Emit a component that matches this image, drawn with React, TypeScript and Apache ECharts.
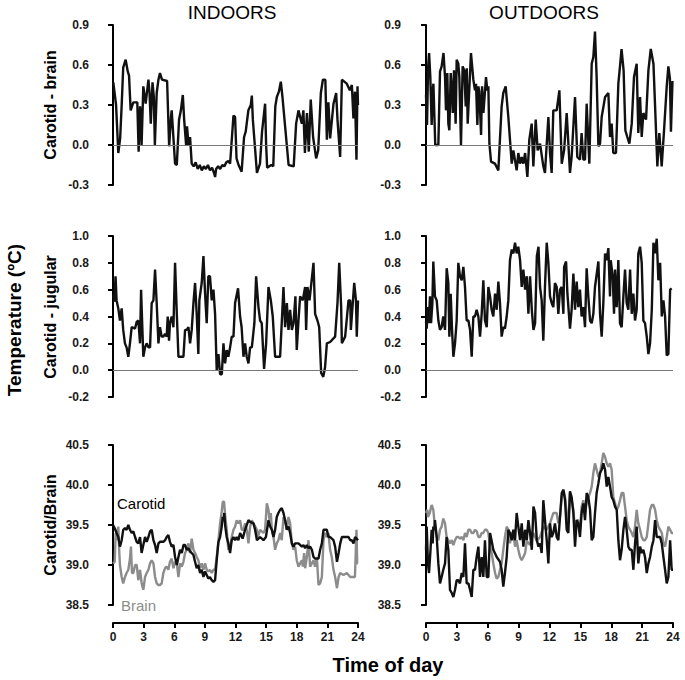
import React, { useEffect, useRef } from "react";
import * as echarts from "echarts";

// ---------- data (time of day in h, value) ----------
const indoorCarotidBrain: [number, number][] = [
  [0.03,0.47],[0.3,0.3],[0.52,-0.06],[0.7,0.05],[0.85,0.3],[1.0,0.58],[1.24,0.64],[1.45,0.55],[1.57,0.52],[1.73,0.26],
  [1.99,0.32],[2.38,0.32],[2.51,-0.05],[2.65,0.29],[2.72,0.21],[2.8,0.0],[2.97,0.44],[3.2,0.31],[3.47,0.49],[3.58,0.39],
  [3.7,0.16],[3.87,0.47],[4.0,0.36],[4.1,0.0],[4.28,0.39],[4.45,0.49],[4.6,0.54],[4.8,0.49],[5.3,0.48],[5.5,-0.01],
  [5.68,0.21],[5.75,0.26],[6.08,-0.14],[6.25,-0.15],[6.47,0.19],[6.65,0.26],[6.84,0.375],[6.97,0.19],[7.16,0.0],[7.25,0.14],
  [7.4,0.0],[7.55,0.06],[7.71,-0.14],[7.9,-0.16],[8.1,-0.13],[8.3,-0.18],[8.5,-0.15],[8.7,-0.19],[8.9,-0.16],[9.1,-0.18],
  [9.3,-0.15],[9.5,-0.19],[9.7,-0.17],[9.9,-0.21],[10.0,-0.24],[10.1,-0.18],[10.3,-0.16],[10.5,-0.18],[10.7,-0.15],[10.9,-0.16],
  [11.1,-0.13],[11.3,-0.12],[11.47,-0.14],[11.6,0.0],[11.8,0.22],[11.96,0.21],[12.1,-0.1],[12.3,-0.15],[12.6,-0.2],[12.84,0.06],
  [13.0,0.1],[13.26,0.26],[13.5,0.3],[13.6,0.37],[13.7,0.19],[14.1,-0.21],[14.4,-0.14],[14.6,0.1],[14.9,0.31],[15.0,0.0],
  [15.1,-0.17],[15.5,-0.15],[15.7,-0.16],[15.9,0.29],[16.05,0.36],[16.25,0.4],[16.44,0.475],[16.6,0.36],[16.86,0.14],[17.2,-0.15],
  [17.7,-0.16],[17.94,0.16],[18.17,0.26],[18.5,0.16],[18.65,0.26],[18.8,-0.06],[19.0,0.24],[19.18,-0.05],[19.37,0.34],[19.6,0.06],
  [19.9,-0.1],[20.1,-0.04],[20.36,0.39],[20.56,0.49],[20.8,0.49],[20.95,0.04],[21.1,0.32],[21.27,0.05],[21.6,0.31],[21.86,0.39],
  [21.99,0.19],[22.25,-0.09],[22.42,0.49],[22.9,0.46],[23.2,0.41],[23.4,0.45],[23.55,0.2],[23.7,0.4],[23.85,-0.11],[23.95,0.44],[24.0,0.3]
];

const outdoorCarotidBrain: [number, number][] = [
  [0,0.375],[0.1,0.15],[0.2,0.575],[0.3,0.69],[0.42,0.51],[0.55,0.15],[0.65,0.41],[0.72,0.46],[0.9,0.0],[1.2,0.0],
  [1.36,0.55],[1.52,0.59],[1.7,0.69],[1.85,0.51],[1.94,0.26],[2.07,0.54],[2.17,0.16],[2.27,0.11],[2.4,0.54],[2.53,0.39],
  [2.6,0.24],[2.72,0.56],[2.88,0.16],[2.98,0.64],[3.14,0.61],[3.24,0.51],[3.4,0.0],[3.56,0.59],[3.72,0.56],[3.86,0.29],
  [3.96,0.575],[4.05,0.16],[4.37,0.69],[4.6,0.49],[4.76,0.41],[4.86,0.46],[4.99,0.15],[5.09,0.44],[5.18,0.4],[5.35,0.075],
  [5.45,0.44],[5.58,0.24],[5.83,0.51],[5.96,0.41],[6.06,0.44],[6.16,0.01],[6.32,-0.125],[6.7,-0.14],[7.03,-0.19],[7.35,0.29],
  [7.51,0.39],[7.74,0.44],[8.0,0.21],[8.33,-0.14],[8.49,-0.04],[8.81,-0.19],[8.97,-0.06],[9.14,-0.14],[9.3,-0.09],[9.46,-0.14],
  [9.63,-0.06],[9.85,-0.24],[10.04,0.04],[10.27,0.16],[10.43,-0.16],[10.66,0.19],[10.85,-0.04],[11.08,0.01],[11.4,-0.16],[11.56,-0.21],
  [11.89,0.21],[12.05,-0.06],[12.21,-0.21],[12.37,0.26],[12.7,0.26],[12.96,0.41],[13.19,-0.14],[13.42,-0.04],[13.67,0.24],[13.99,-0.21],
  [14.15,-0.09],[14.48,0.36],[14.7,-0.09],[14.96,-0.11],[15.12,0.09],[15.29,-0.11],[15.45,-0.11],[15.61,0.31],[15.87,-0.14],[16.1,0.61],
  [16.26,0.66],[16.42,0.85],[16.58,0.51],[16.75,-0.01],[16.91,0.01],[17.07,0.21],[17.4,0.36],[17.72,0.39],[17.88,0.06],[18.04,0.16],
  [18.2,-0.06],[18.46,-0.06],[18.69,0.46],[18.85,0.59],[19.0,0.72],[19.2,0.56],[19.37,0.11],[19.56,0.06],[19.76,0.01],[19.99,0.16],
  [20.21,0.51],[20.47,0.61],[20.63,0.09],[20.8,0.36],[20.96,0.06],[21.12,0.24],[21.38,0.19],[21.61,0.56],[21.84,0.72],[22.1,0.61],
  [22.26,0.29],[22.48,-0.16],[22.67,0.09],[22.9,-0.16],[23.13,0.11],[23.39,0.44],[23.55,0.59],[23.7,0.5],[23.8,0.1],[23.95,0.48]
];

const indoorCarotidJugular: [number, number][] = [
  [0.03,0.56],[0.13,0.51],[0.25,0.7],[0.35,0.52],[0.52,0.46],[0.68,0.37],[0.85,0.46],[1.0,0.3],[1.17,0.2],[1.33,0.17],
  [1.5,0.1],[1.66,0.2],[1.83,0.32],[2.16,0.31],[2.32,0.36],[2.48,0.37],[2.65,0.2],[2.75,0.6],[2.85,0.37],[2.97,0.1],
  [3.14,0.17],[3.3,0.2],[3.47,0.17],[3.63,0.17],[3.79,0.5],[3.96,0.52],[4.12,0.75],[4.28,0.5],[4.45,0.2],[4.6,0.32],
  [4.77,0.25],[4.93,0.25],[5.1,0.27],[5.26,0.25],[5.36,0.4],[5.49,0.22],[5.58,0.35],[5.75,0.4],[5.92,0.32],[6.08,0.8],
  [6.25,0.42],[6.41,0.1],[6.9,0.1],[7.06,0.3],[7.22,0.3],[7.39,0.32],[7.55,0.2],[7.71,0.3],[7.88,0.5],[8.04,0.65],
  [8.2,0.42],[8.36,0.12],[8.46,0.52],[8.69,0.65],[8.86,0.85],[9.02,0.57],[9.18,0.35],[9.34,0.7],[9.5,0.7],[9.67,0.52],
  [9.84,0.6],[10.0,0.42],[10.16,0.0],[10.33,0.12],[10.49,-0.03],[10.66,-0.03],[10.82,0.2],[10.98,0.05],[11.14,0.15],[11.3,0.1],
  [11.47,0.17],[11.63,0.25],[11.8,0.25],[11.96,0.5],[12.25,0.61],[12.45,0.4],[12.6,0.32],[12.78,0.1],[12.94,0.2],[13.1,0.1],
  [13.27,0.05],[13.43,0.17],[13.6,0.17],[13.85,0.35],[14.02,0.7],[14.25,0.47],[14.41,0.37],[14.57,0.35],[14.8,0.01],[15.0,0.2],
  [15.23,0.62],[15.46,0.52],[15.65,0.4],[15.88,0.1],[16.37,0.1],[16.7,0.62],[16.86,0.32],[17.03,0.5],[17.19,0.3],[17.35,0.45],
  [17.52,0.3],[17.68,0.35],[17.87,0.55],[18.0,0.15],[18.17,0.37],[18.33,0.55],[18.59,0.52],[18.82,0.62],[18.92,0.3],[19.05,0.62],
  [19.25,0.52],[19.64,0.8],[19.8,0.42],[20.03,0.37],[20.2,0.32],[20.39,-0.02],[20.6,-0.05],[20.77,0.02],[20.95,0.2],[21.27,0.21],
  [21.76,0.25],[21.99,0.5],[22.16,0.8],[22.35,0.47],[22.42,0.2],[22.74,0.25],[23.07,0.52],[23.24,0.52],[23.3,0.3],[23.63,0.65],
  [23.8,0.52],[23.88,0.25],[24.0,0.52]
];

const outdoorCarotidJugular: [number, number][] = [
  [0,0.36],[0.07,0.31],[0.17,0.47],[0.26,0.35],[0.39,0.55],[0.49,0.35],[0.62,0.5],[0.71,0.81],[0.87,0.55],[1.04,0.52],
  [1.2,0.37],[1.36,0.3],[1.52,0.32],[1.68,0.4],[1.85,0.3],[2.01,0.76],[2.17,0.65],[2.27,0.25],[2.4,0.57],[2.53,0.3],
  [2.66,0.1],[2.82,0.2],[2.98,0.37],[3.14,0.8],[3.3,0.7],[3.47,0.67],[3.63,0.77],[3.79,0.62],[3.95,0.37],[4.12,0.37],
  [4.28,0.3],[4.44,0.1],[4.6,0.4],[4.76,0.4],[4.92,0.45],[5.09,0.4],[5.25,0.25],[5.41,0.42],[5.57,0.67],[5.73,0.37],
  [5.9,0.32],[6.06,0.62],[6.22,0.55],[6.38,0.45],[6.54,0.4],[6.71,0.57],[6.87,0.45],[7.03,0.66],[7.19,0.5],[7.35,0.25],
  [7.51,0.32],[7.67,0.31],[7.84,0.4],[8.0,0.52],[8.16,0.82],[8.33,0.9],[8.49,0.87],[8.65,0.95],[8.81,0.87],[8.97,0.92],
  [9.14,0.82],[9.3,0.62],[9.46,0.75],[9.63,0.6],[9.79,0.7],[9.95,0.42],[10.11,0.7],[10.28,0.45],[10.44,0.3],[10.6,0.35],
  [10.77,0.85],[10.93,0.92],[11.08,0.62],[11.24,0.52],[11.4,0.22],[11.56,0.62],[11.73,0.95],[11.89,0.8],[12.05,0.55],[12.21,0.5],
  [12.37,0.47],[12.53,0.65],[12.7,0.62],[12.86,0.42],[13.02,0.6],[13.19,0.62],[13.35,0.42],[13.42,0.77],[13.61,0.81],[13.74,0.57],
  [13.99,0.31],[14.15,0.45],[14.32,0.72],[14.48,0.45],[14.64,0.66],[14.8,0.47],[14.96,0.6],[15.12,0.4],[15.29,0.47],[15.45,0.32],
  [15.61,0.76],[15.77,0.55],[15.94,0.37],[16.1,0.35],[16.26,0.42],[16.42,0.62],[16.75,0.81],[16.91,0.42],[17.07,0.25],[17.23,0.5],
  [17.4,0.87],[17.56,0.82],[17.72,0.91],[17.88,0.55],[17.95,0.82],[18.14,0.7],[18.27,0.42],[18.37,0.75],[18.53,0.47],[18.69,0.82],
  [18.85,0.35],[19.01,0.32],[19.18,0.55],[19.34,0.75],[19.5,0.5],[19.66,0.45],[19.83,0.75],[19.99,0.42],[20.15,0.57],[20.31,0.37],
  [20.47,0.45],[20.63,0.87],[20.8,0.92],[20.96,0.8],[21.12,0.37],[21.28,0.35],[21.45,0.25],[21.61,0.12],[21.77,0.2],[21.94,0.45],
  [22.1,0.95],[22.26,0.87],[22.42,0.98],[22.58,0.67],[22.75,0.8],[22.91,0.4],[23.07,0.52],[23.23,0.4],[23.39,0.11],[23.55,0.12],
  [23.72,0.6],[23.87,0.61]
];

const indoorCarotid: [number, number][] = [
  [0,39.5],[0.17,39.46],[0.35,39.4],[0.52,39.35],[0.68,39.23],[0.85,39.31],[1.0,39.44],[1.17,39.46],[1.33,39.44],[1.5,39.5],
  [1.66,39.44],[1.83,39.4],[1.99,39.42],[2.16,39.35],[2.32,39.29],[2.48,39.27],[2.65,39.35],[2.8,39.15],[2.97,39.25],[3.14,39.35],
  [3.3,39.29],[3.47,39.35],[3.63,39.42],[3.79,39.44],[3.96,39.31],[4.12,39.25],[4.28,39.15],[4.45,39.27],[4.6,39.29],[4.93,39.29],
  [5.1,39.31],[5.26,39.35],[5.42,39.375],[5.58,39.29],[5.75,39.23],[5.92,39.25],[6.08,39.1],[6.25,39.0],[6.41,39.1],[6.57,39.19],
  [6.74,39.15],[6.9,39.25],[7.06,39.25],[7.22,39.19],[7.39,39.21],[7.55,39.17],[7.71,39.15],[7.88,39.125],[8.04,39.04],[8.2,38.96],
  [8.36,39.0],[8.53,38.9],[8.69,38.94],[8.86,38.85],[9.02,38.92],[9.18,38.875],[9.34,38.83],[9.5,38.85],[9.67,38.81],[9.84,38.79],
  [10.0,38.81],[10.16,39.06],[10.33,39.29],[10.49,39.35],[10.65,39.48],[10.75,39.6],[10.82,39.56],[10.9,39.65],[11.0,39.48],[11.14,39.35],
  [11.3,39.27],[11.47,39.15],[11.63,39.31],[11.8,39.35],[11.96,39.31],[12.12,39.35],[12.28,39.31],[12.45,39.4],[12.7,39.33],[12.94,39.44],
  [13.27,39.56],[13.43,39.54],[13.76,39.52],[13.92,39.44],[14.1,39.31],[14.41,39.35],[14.74,39.31],[14.98,39.35],[15.23,39.56],[15.4,39.48],
  [15.56,39.44],[15.72,39.35],[15.88,39.44],[16.04,39.6],[16.2,39.65],[16.37,39.69],[16.53,39.71],[16.7,39.65],[16.86,39.56],[17.03,39.44],
  [17.2,39.48],[17.35,39.4],[17.52,39.27],[17.68,39.23],[17.84,39.27],[18.17,39.27],[18.5,39.23],[18.66,39.25],[18.82,39.21],[18.99,39.25],
  [19.15,39.21],[19.31,39.23],[19.48,39.19],[19.64,39.1],[19.8,39.08],[20.13,39.08],[20.29,39.19],[20.46,39.27],[20.62,39.44],[20.78,39.44],
  [20.95,39.44],[21.1,39.35],[21.27,39.35],[21.6,39.31],[21.76,39.23],[21.94,39.04],[22.1,39.15],[22.26,39.27],[22.42,39.35],[22.74,39.35],
  [23.07,39.35],[23.24,39.31],[23.4,39.31],[23.56,39.27],[23.72,39.35],[24.0,39.31]
];

const indoorBrain: [number, number][] = [
  [0,39.02],[0.17,39.04],[0.26,39.4],[0.35,39.31],[0.52,39.48],[0.62,39.15],[0.68,39.0],[0.85,38.85],[1.0,38.77],[1.17,38.85],
  [1.33,38.9],[1.5,38.94],[1.66,39.08],[1.76,39.23],[1.86,38.9],[1.99,38.9],[2.16,39.0],[2.32,39.0],[2.48,38.81],[2.65,38.94],
  [2.81,38.77],[2.97,38.69],[3.14,38.85],[3.3,38.9],[3.47,38.94],[3.63,39.02],[3.79,39.06],[3.96,39.02],[4.12,38.85],[4.28,38.77],
  [4.45,38.75],[4.6,38.75],[4.77,38.77],[4.93,38.9],[5.1,38.96],[5.26,38.98],[5.42,38.94],[5.58,39.04],[5.75,39.08],[5.92,38.96],
  [6.08,39.04],[6.25,39.02],[6.41,38.85],[6.57,39.02],[6.74,38.98],[6.9,39.04],[7.06,39.15],[7.22,39.19],[7.39,39.27],[7.55,39.15],
  [7.71,39.33],[7.88,39.19],[8.04,39.15],[8.2,39.1],[8.36,39.06],[8.53,38.96],[8.69,39.02],[8.86,38.94],[9.02,39.02],[9.18,38.94],
  [9.34,38.92],[9.5,38.94],[9.67,38.9],[9.84,38.94],[10.0,38.94],[10.16,39.1],[10.33,39.31],[10.49,39.52],[10.65,39.67],[10.75,39.79],
  [10.88,39.79],[11.0,39.6],[11.14,39.44],[11.3,39.19],[11.47,39.23],[11.63,39.35],[11.8,39.44],[11.96,39.48],[12.12,39.56],[12.29,39.52],
  [12.45,39.56],[12.61,39.44],[12.78,39.44],[12.94,39.52],[13.1,39.44],[13.27,39.27],[13.43,39.48],[13.6,39.56],[13.76,39.52],[14.1,39.44],
  [14.2,39.35],[14.41,39.44],[14.74,39.4],[14.9,39.44],[15.07,39.77],[15.23,39.69],[15.33,39.56],[15.46,39.65],[15.56,39.44],[15.72,39.35],
  [15.88,39.19],[16.04,39.27],[16.2,39.31],[16.37,39.4],[16.53,39.31],[16.7,39.6],[16.86,39.56],[17.03,39.44],[17.19,39.6],[17.35,39.52],
  [17.52,39.27],[17.68,39.19],[17.84,39.23],[18.0,39.06],[18.17,38.98],[18.33,39.02],[18.5,39.06],[18.59,38.98],[18.72,39.15],[18.82,38.96],
  [18.99,39.1],[19.15,39.31],[19.31,38.98],[19.48,39.02],[19.64,39.06],[19.8,38.98],[19.97,39.1],[20.13,38.75],[20.29,38.77],[20.46,38.85],
  [20.62,39.31],[20.78,39.4],[20.95,39.35],[21.1,39.4],[21.27,39.19],[21.43,39.1],[21.6,38.94],[21.76,38.85],[21.94,38.71],[22.1,38.85],
  [22.26,38.9],[22.58,38.875],[22.9,38.9],[23.24,38.85],[23.56,38.85],[23.7,38.85],[23.85,39.44],[23.92,39.02],[24.0,39.02]
];

const outdoorCarotid: [number, number][] = [
  [0,39.19],[0.07,39.48],[0.19,39.02],[0.29,38.9],[0.42,39.15],[0.55,39.44],[0.65,39.27],[0.71,39.48],[0.81,39.44],[0.87,39.56],
  [1.04,39.35],[1.2,39.02],[1.36,38.77],[1.52,38.85],[1.68,38.94],[1.85,39.02],[2.0,39.35],[2.17,39.19],[2.33,38.69],[2.5,38.65],
  [2.66,38.6],[2.82,38.69],[2.98,38.81],[3.14,38.81],[3.3,38.77],[3.47,38.9],[3.63,38.85],[3.79,39.27],[3.95,38.77],[4.12,38.77],
  [4.28,38.69],[4.44,38.6],[4.6,38.94],[4.76,38.94],[4.92,39.1],[5.09,39.23],[5.25,38.85],[5.41,39.1],[5.57,38.85],[5.73,39.31],
  [5.9,38.85],[6.06,38.85],[6.22,39.4],[6.38,39.3],[6.54,39.19],[6.87,39.1],[7.19,39.04],[7.35,38.94],[7.51,38.73],[7.67,38.9],
  [7.84,39.1],[8.0,39.44],[8.16,39.4],[8.33,39.31],[8.49,39.44],[8.65,39.31],[8.81,39.65],[8.97,39.48],[9.14,39.31],[9.3,39.52],
  [9.46,39.23],[9.63,39.44],[9.79,39.31],[9.95,39.56],[10.11,39.4],[10.28,39.19],[10.44,39.73],[10.6,39.65],[10.77,39.31],[10.93,39.23],
  [11.08,39.27],[11.24,39.15],[11.4,39.81],[11.56,39.56],[11.73,39.31],[11.89,39.02],[12.05,39.52],[12.21,39.35],[12.37,39.4],[12.53,39.52],
  [12.7,39.35],[12.86,39.31],[13.02,39.6],[13.19,39.9],[13.35,39.94],[13.51,39.81],[13.67,39.44],[13.83,39.4],[13.99,39.92],[14.15,39.85],
  [14.32,39.65],[14.48,39.23],[14.64,39.56],[14.8,39.52],[14.96,39.35],[15.12,39.65],[15.29,39.77],[15.45,39.56],[15.61,39.9],[15.77,39.85],
  [15.94,39.69],[16.1,39.31],[16.26,39.35],[16.42,39.65],[16.58,39.9],[16.75,40.02],[16.91,40.15],[17.07,40.19],[17.23,40.27],[17.4,40.19],
  [17.56,39.98],[17.72,40.1],[17.88,39.98],[18.04,39.85],[18.2,39.81],[18.37,39.73],[18.53,39.69],[18.69,39.31],[18.85,39.06],[19.01,39.19],
  [19.18,39.44],[19.34,39.6],[19.5,39.44],[19.66,39.23],[19.83,39.19],[19.99,39.19],[20.15,38.94],[20.31,39.27],[20.47,39.48],[20.63,39.02],
  [20.8,39.23],[20.96,39.15],[21.12,39.19],[21.28,39.1],[21.45,38.9],[21.61,39.02],[21.77,39.1],[21.94,39.23],[22.1,39.31],[22.26,39.56],
  [22.42,39.35],[22.58,39.35],[22.75,39.35],[22.91,39.27],[23.07,39.1],[23.23,38.94],[23.39,38.77],[23.55,38.85],[23.72,39.31],[23.87,38.94],
  [24.0,38.94]
];

const outdoorBrain: [number, number][] = [
  [0,39.65],[0.13,39.69],[0.19,39.6],[0.36,39.65],[0.55,39.75],[0.71,39.69],[0.87,39.48],[1.04,39.35],[1.2,39.31],[1.36,39.44],
  [1.52,39.48],[1.68,39.58],[1.85,39.52],[2.0,39.35],[2.17,39.31],[2.33,39.27],[2.5,39.31],[2.66,39.25],[2.82,39.31],[2.98,39.35],
  [3.14,39.35],[3.3,39.33],[3.47,39.35],[3.63,39.31],[3.79,39.4],[3.95,39.35],[4.12,39.44],[4.28,39.44],[4.44,39.4],[4.6,39.4],
  [4.76,39.44],[4.93,39.42],[5.09,39.35],[5.25,39.35],[5.41,39.4],[5.57,39.4],[5.73,39.44],[5.9,39.44],[6.06,39.4],[6.22,39.23],
  [6.38,39.15],[6.54,39.02],[6.71,38.9],[6.87,38.83],[7.03,38.85],[7.19,38.94],[7.35,39.02],[7.51,39.19],[7.67,39.35],[7.84,39.48],
  [8.0,39.44],[8.16,39.27],[8.33,39.4],[8.49,39.4],[8.65,39.23],[8.81,39.31],[8.97,39.19],[9.14,39.1],[9.3,39.06],[9.46,39.1],
  [9.63,39.15],[9.79,39.3],[10.11,39.25],[10.44,39.4],[10.77,39.3],[11.08,39.35],[11.4,39.48],[11.73,39.44],[12.05,39.52],[12.37,39.65],
  [12.7,39.65],[12.86,39.52],[13.02,39.6],[13.19,39.85],[13.35,39.94],[13.51,39.85],[13.67,39.65],[13.83,39.52],[13.99,39.9],[14.15,39.81],
  [14.32,39.69],[14.48,39.44],[14.64,39.56],[14.8,39.56],[14.96,39.44],[15.12,39.73],[15.29,39.81],[15.45,39.65],[15.61,39.77],[15.77,39.85],
  [15.94,39.9],[16.1,39.98],[16.26,40.15],[16.42,40.27],[16.58,40.19],[16.75,40.1],[16.91,40.15],[17.07,40.27],[17.23,40.4],[17.4,40.35],
  [17.56,40.27],[17.72,40.23],[17.88,40.27],[18.04,40.19],[18.2,39.85],[18.37,39.77],[18.53,39.69],[18.69,39.73],[18.85,39.81],[19.01,39.9],
  [19.18,39.9],[19.34,39.73],[19.5,39.56],[19.66,39.48],[19.83,39.44],[19.99,39.4],[20.15,39.35],[20.31,39.48],[20.47,39.69],[20.63,39.52],
  [20.8,39.44],[20.96,39.35],[21.12,39.31],[21.28,39.31],[21.45,39.35],[21.61,39.52],[21.77,39.69],[21.94,39.75],[22.1,39.75],[22.26,39.69],
  [22.42,39.56],[22.58,39.48],[22.75,39.44],[22.91,39.4],[23.07,39.27],[23.23,39.23],[23.39,39.35],[23.55,39.48],[23.72,39.44],[23.87,39.4],
  [24.0,39.4]
];

const columnTitles = ["INDOORS", "OUTDOORS"];
const rowTitles = ["Carotid - brain", "Carotid - jugular", "Carotid/Brain"];
const yRanges = [
  { min: -0.3, max: 0.9, interval: 0.3 },
  { min: -0.2, max: 1.0, interval: 0.2 },
  { min: 38.5, max: 40.5, interval: 0.5 },
];

const FONT = "'Liberation Sans', Arial, Helvetica, sans-serif";

export default function App() {
  const ref = useRef<HTMLDivElement>(null);
  useEffect(() => {
    const chart = echarts.init(ref.current!, null, { renderer: "svg" });

    const cols = [
      { left: 113, width: 245 },
      { left: 426, width: 247 },
    ];
    const rows = [
      { top: 25, height: 160 },
      { top: 236, height: 161 },
      { top: 445, height: 160 },
    ];
    const grid: any[] = [];
    const xAxis: any[] = [];
    const yAxis: any[] = [];
    const labelStyle = { fontWeight: "bold", fontSize: 12, color: "#1a1a1a", fontFamily: FONT };
    rows.forEach((r, ri) => {
      cols.forEach((c, ci) => {
        grid.push({ left: c.left, width: c.width, top: r.top, height: r.height, containLabel: false });
        xAxis.push({
          type: "value",
          gridIndex: ri * 2 + ci,
          min: 0,
          max: 24,
          interval: 3,
          show: ri === 2,
          offset: 18,
          splitLine: { show: false },
          axisLine: { show: true, lineStyle: { color: "#000", width: 2 } },
          axisTick: { show: true, length: 5, lineStyle: { color: "#000", width: 2 } },
          axisLabel: { ...labelStyle, margin: 8 },
        });
        yAxis.push({
          type: "value",
          gridIndex: ri * 2 + ci,
          min: yRanges[ri].min,
          max: yRanges[ri].max,
          interval: yRanges[ri].interval,
          offset: ci === 0 ? 17 : 18,
          splitLine: { show: false },
          axisLine: { show: true, lineStyle: { color: "#000", width: 2 } },
          axisTick: { show: true, length: 5, lineStyle: { color: "#000", width: 2 } },
          axisLabel: { ...labelStyle, margin: 7, formatter: (v: number) => v.toFixed(1) },
        });
      });
    });

    const zeroLine = {
      silent: true,
      symbol: ["none", "none"],
      label: { show: false },
      lineStyle: { color: "#777", width: 1, type: "solid" },
      data: [{ yAxis: 0 }],
    };
    const black = "#111";
    const gray = "#8c8c8c";
    const mk = (data: [number, number][], idx: number, color: string, zero: boolean) => ({
      type: "line",
      xAxisIndex: idx,
      yAxisIndex: idx,
      data,
      showSymbol: false,
      symbol: "none",
      lineStyle: { color, width: 2.4 },
      z: color === black ? 3 : 2,
      markLine: zero ? zeroLine : undefined,
    });

    const series = [
      mk(indoorCarotidBrain, 0, black, true),
      mk(outdoorCarotidBrain, 1, black, true),
      mk(indoorCarotidJugular, 2, black, true),
      mk(outdoorCarotidJugular, 3, black, true),
      mk(indoorBrain, 4, gray, false),
      mk(indoorCarotid, 4, black, false),
      mk(outdoorBrain, 5, gray, false),
      mk(outdoorCarotid, 5, black, false),
    ];

    const txt = (text: string, x: number, y: number, font: string, fill = "#000", rotation = 0) => ({
      type: "text",
      x,
      y,
      rotation,
      style: { text, font, fill, align: "center", verticalAlign: "middle", textAlign: "center", textVerticalAlign: "middle" },
    });

    const graphic = [
      txt(columnTitles[0], 232, 12, `normal 19px ${FONT}`),
      txt(columnTitles[1], 544, 12, `normal 19px ${FONT}`),
      txt(rowTitles[0], 50, 105, `bold 16px ${FONT}`, "#000", Math.PI / 2),
      txt(rowTitles[1], 50, 317, `bold 16px ${FONT}`, "#000", Math.PI / 2),
      txt(rowTitles[2], 50, 525, `bold 16px ${FONT}`, "#000", Math.PI / 2),
      txt("Temperature (ºC)", 14, 320, `bold 19px ${FONT}`, "#000", Math.PI / 2),
      txt("Time of day", 388, 665, `bold 20px ${FONT}`),
      { type: "text", x: 117, y: 503, style: { text: "Carotid", font: `normal 15px ${FONT}`, fill: "#000", textVerticalAlign: "middle", verticalAlign: "middle" } },
      { type: "text", x: 121, y: 605, style: { text: "Brain", font: `normal 15px ${FONT}`, fill: gray, textVerticalAlign: "middle", verticalAlign: "middle" } },
    ];

    chart.setOption({
      animation: false,
      backgroundColor: "#fff",
      grid,
      xAxis,
      yAxis,
      series,
      graphic,
    });
    return () => chart.dispose();
  }, []);
  return <div ref={ref} style={{ position: "absolute", left: 0, top: 0, width: 685, height: 680 }} />;
}
